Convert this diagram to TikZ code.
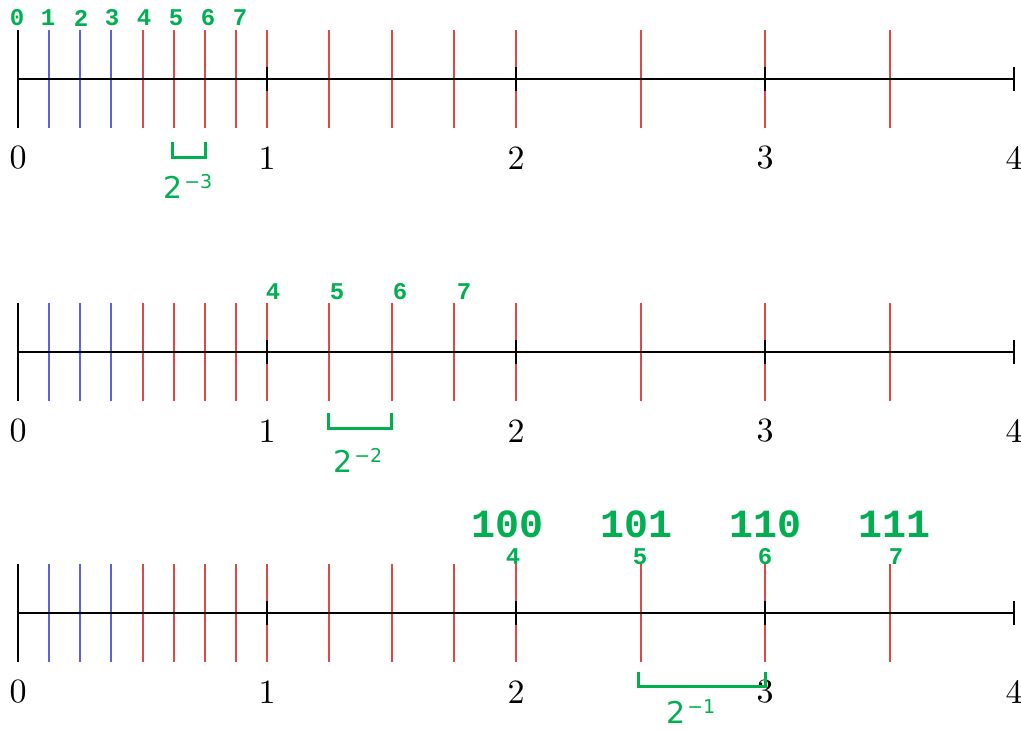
\documentclass[tikz,border=0pt]{standalone}
\usepackage{fontspec}
\newfontfamily\monofam{Liberation Mono}
\newfontfamily\dvs{DejaVu Sans}
\newfontfamily\lmten{lmroman10-regular}[Extension=.otf]
\definecolor{grn}{RGB}{0,176,80}
\definecolor{tblue}{RGB}{95,95,225}
\definecolor{tred}{RGB}{222,72,72}
\tikzset{
  axisline/.style={line width=1.5pt, black},
  bluetick/.style={line width=2pt, tblue},
  redtick/.style={line width=2pt, tred},
  blacktick/.style={line width=2pt, black},
  numlab/.style={font=\lmten\fontsize{34}{34}\selectfont, inner sep=0pt},
  idxlab/.style={font=\monofam\bfseries\fontsize{24}{24}\selectfont, text=grn, inner sep=0pt},
  biglab/.style={font=\monofam\bfseries\fontsize{40}{40}\selectfont, text=grn, inner sep=0pt},
  explab/.style={font=\dvs\fontsize{30}{30}\selectfont, text=grn, inner sep=0pt, anchor=base west},
  bracket/.style={line width=3pt, grn},
}
\newcommand{\expo}[1]{2\kern2pt\raisebox{10pt}{\fontsize{19}{19}\selectfont −#1}}
\begin{document}
\begin{tikzpicture}[x=1pt,y=-1pt]
\useasboundingbox (0,0) rectangle (1021,731);
\foreach \yy [count=\i] in {79,352,613} {
  % blue ticks (subnormals)
  \foreach \k in {1,2,3}
    \draw[bluetick] ({18+249*\k/8},\yy-49) -- ({18+249*\k/8},\yy+49);
  % red ticks
  \foreach \v in {0.5,0.625,0.75,0.875,1,1.25,1.5,1.75,2,2.5,3,3.5}
    \draw[redtick] ({18+249*\v},\yy-49) -- ({18+249*\v},\yy+49);
  % axis
  \draw[axisline] (18,\yy) -- (1014,\yy);
  \draw[blacktick] (18,\yy-49) -- (18,\yy+49);
  \foreach \v in {1,2,3,4}
    \draw[blacktick] ({18+249*\v},\yy-12) -- ({18+249*\v},\yy+12);
  % number labels
  \foreach \v in {0,1,2,3,4}
    \node[numlab] (n\i-\v) at ({18+249*\v},\yy+79) {\v};
}
% index labels, line 1
\foreach \x/\t in {17/0,48/1,81/2,112/3,144/4,176/5,208/6,240/7}
  \node[idxlab] (a\t) at (\x,18) {\t};
% index labels, line 2
\foreach \x/\t in {273/4,337/5,400/6,464/7}
  \node[idxlab] (b\t) at (\x,292) {\t};
% index labels, line 3
\foreach \x/\t in {513/4,640/5,765/6,896/7}
  \node[idxlab] (c\t) at (\x,557) {\t};
\foreach \x/\t in {508/100,637/101,765/110,894/111}
  \node[biglab] (m\t) at (\x,524) {\t};
% brackets
\draw[bracket] (172,142) -- (172,157) -- (205,157) -- (205,142);
\node[explab] (e1) at (163,198) {\expo{3}};
\draw[bracket] (328,413) -- (328,428) -- (391,428) -- (391,413);
\node[explab] (e2) at (333,472) {\expo{2}};
\draw[bracket] (638,672) -- (638,686) -- (765,686) -- (765,672);
\node[explab] (e3) at (666,723) {\expo{1}};
\end{tikzpicture}
\end{document}
